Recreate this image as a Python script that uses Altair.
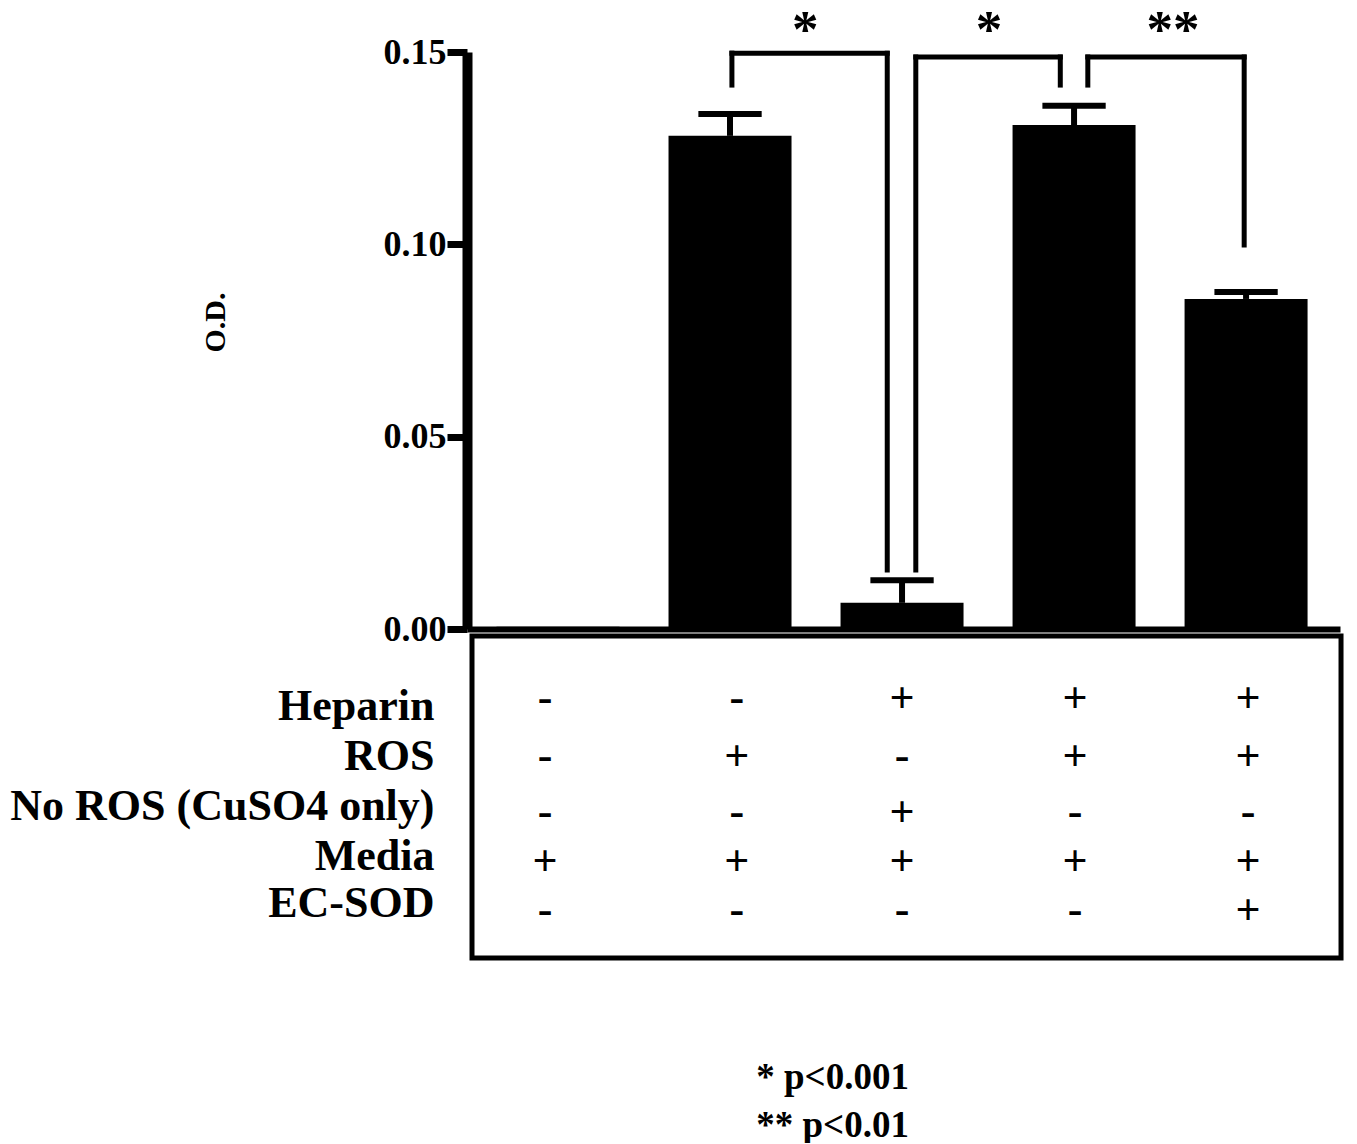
import altair as alt
import pandas as pd

# ---- data ----
groups = ["Control", "ROS", "Heparin + CuSO4", "Heparin + ROS", "Heparin + ROS + EC-SOD"]
od = [0.0006, 0.1282, 0.0068, 0.1310, 0.0858]
sem = [0.0, 0.0057, 0.0059, 0.0050, 0.0018]

row_labels = ["Heparin", "ROS", "No ROS (CuSO4 only)", "Media", "EC-SOD"]
signs = [
    ["-", "-", "+", "+", "+"],
    ["-", "+", "-", "+", "+"],
    ["-", "-", "+", "-", "-"],
    ["+", "+", "+", "+", "+"],
    ["-", "-", "-", "-", "+"],
]
# significance brackets
br_left = [1.511, 2.580, 3.580]
br_right = [2.414, 3.420, 4.489]
br_left_low = [0.1414, 0.01534, 0.1414]
br_right_low = [0.01534, 0.1414, 0.0998]
br_top = [0.1497, 0.1487, 0.1487]
br_text = ["*", "*", "**"]
br_text_x = [1.937, 3.006, 4.075]
notes = ["* p<0.001", "** p<0.01"]

# layout helpers (in the units of the chart's scales)
X_MAX = 5.017
col_x = [0.425, 1.540, 2.500, 3.506, 4.511]
sign_y = [-0.0216, -0.0367, -0.0512, -0.0640, -0.0767]
label_y = [-0.0237, -0.0367, -0.0497, -0.0627, -0.0749]
label_x = -0.218
box = dict(x=0.0, x2=5.052, y=-0.0018, y2=-0.0855)
star_y = 0.1513
note_x = 2.096
note_y = [-0.1196, -0.1321]

FONT = "Liberation Serif"
xs = alt.Scale(domain=[0, X_MAX], nice=False, zero=False)
ys = alt.Scale(domain=[0, 0.15], nice=False, zero=False)

bars_df = pd.DataFrame({
    "group": groups,
    "x": [i + 0.5 for i in range(len(groups))],
    "od": od,
    "sem": sem,
})
bars_df["top"] = bars_df["od"] + bars_df["sem"]
bars_df["cl"] = bars_df["x"] - 0.184
bars_df["cr"] = bars_df["x"] + 0.184
err_df = bars_df[bars_df["sem"] > 0]

segs = []
for i in range(len(br_left)):
    segs.append(dict(x=br_left[i], x2=br_left[i], y=br_left_low[i], y2=br_top[i]))
    segs.append(dict(x=br_left[i], x2=br_right[i], y=br_top[i], y2=br_top[i]))
    segs.append(dict(x=br_right[i], x2=br_right[i], y=br_right_low[i], y2=br_top[i]))
seg_df = pd.DataFrame(segs)
star_df = pd.DataFrame({"x": br_text_x, "y": [star_y] * 3, "t": br_text})

sign_rows = []
for r in range(len(row_labels)):
    for c in range(len(groups)):
        sign_rows.append(dict(x=col_x[c], y=sign_y[r], t=signs[r][c]))
sign_df = pd.DataFrame(sign_rows)
lab_df = pd.DataFrame({"x": [label_x] * 5, "y": label_y, "t": row_labels})
box_df = pd.DataFrame([box])
note_df = pd.DataFrame({"x": [note_x] * 2, "y": note_y, "t": notes})

bars = alt.Chart(bars_df).mark_bar(size=123, color="black").encode(
    x=alt.X("x:Q", scale=xs,
            axis=alt.Axis(labels=False, ticks=False, grid=False, domainWidth=6,
                          domainColor="black", title="")),
    y=alt.Y("od:Q", scale=ys,
            axis=alt.Axis(values=[0, 0.05, 0.10, 0.15], format=".2f", grid=False,
                          domainWidth=10, domainColor="black", tickColor="black",
                          tickWidth=7, tickSize=20, labelPadding=1,
                          labelFont=FONT, labelFontSize=36, labelFontWeight="bold",
                          labelColor="black",
                          title="O.D.", titleFont=FONT, titleFontSize=30,
                          titleFontWeight="bold", titleColor="black", titleAngle=270,
                          titleX=-252, titleY=270, titleAlign="center",
                          titleBaseline="middle")),
)
stems = alt.Chart(err_df).mark_rule(color="black", strokeWidth=6).encode(
    x=alt.X("x:Q", scale=xs), y=alt.Y("od:Q", scale=ys), y2="top:Q")
caps = alt.Chart(err_df).mark_rule(color="black", strokeWidth=6).encode(
    x=alt.X("cl:Q", scale=xs), x2="cr:Q", y=alt.Y("top:Q", scale=ys))
brackets = alt.Chart(seg_df).mark_rule(color="black", strokeWidth=5, strokeCap="square").encode(
    x=alt.X("x:Q", scale=xs), x2="x2:Q", y=alt.Y("y:Q", scale=ys), y2="y2:Q")
stars = alt.Chart(star_df).mark_text(font=FONT, fontSize=53, fontWeight="bold",
                                     baseline="alphabetic", align="center", color="black").encode(
    x=alt.X("x:Q", scale=xs), y=alt.Y("y:Q", scale=ys), text="t:N")
boxm = alt.Chart(box_df).mark_rect(fillOpacity=0, stroke="black", strokeWidth=5).encode(
    x=alt.X("x:Q", scale=xs), x2="x2:Q", y=alt.Y("y:Q", scale=ys), y2="y2:Q")
labels = alt.Chart(lab_df).mark_text(font=FONT, fontSize=44, fontWeight="bold",
                                     baseline="alphabetic", align="right", color="black").encode(
    x=alt.X("x:Q", scale=xs), y=alt.Y("y:Q", scale=ys), text="t:N")
signm = alt.Chart(sign_df).mark_text(font=FONT, fontSize=44, fontWeight="bold",
                                     baseline="alphabetic", align="center", color="black").encode(
    x=alt.X("x:Q", scale=xs), y=alt.Y("y:Q", scale=ys), text="t:N")
notem = alt.Chart(note_df).mark_text(font=FONT, fontSize=37, fontWeight="bold",
                                     baseline="alphabetic", align="center", color="black").encode(
    x=alt.X("x:Q", scale=xs), y=alt.Y("y:Q", scale=ys), text="t:N")

chart = alt.layer(boxm, bars, stems, caps, brackets, stars, labels, signm, notem).properties(
    width=873, height=577,
    autosize=alt.AutoSizeParams(type="none"),
    padding={"left": 459, "top": 44, "right": 9, "bottom": 514},
).configure(background="white", view=alt.ViewConfig(stroke="transparent", strokeWidth=0))

chart.save("out.html", embed_options={"renderer": "svg", "actions": False})
